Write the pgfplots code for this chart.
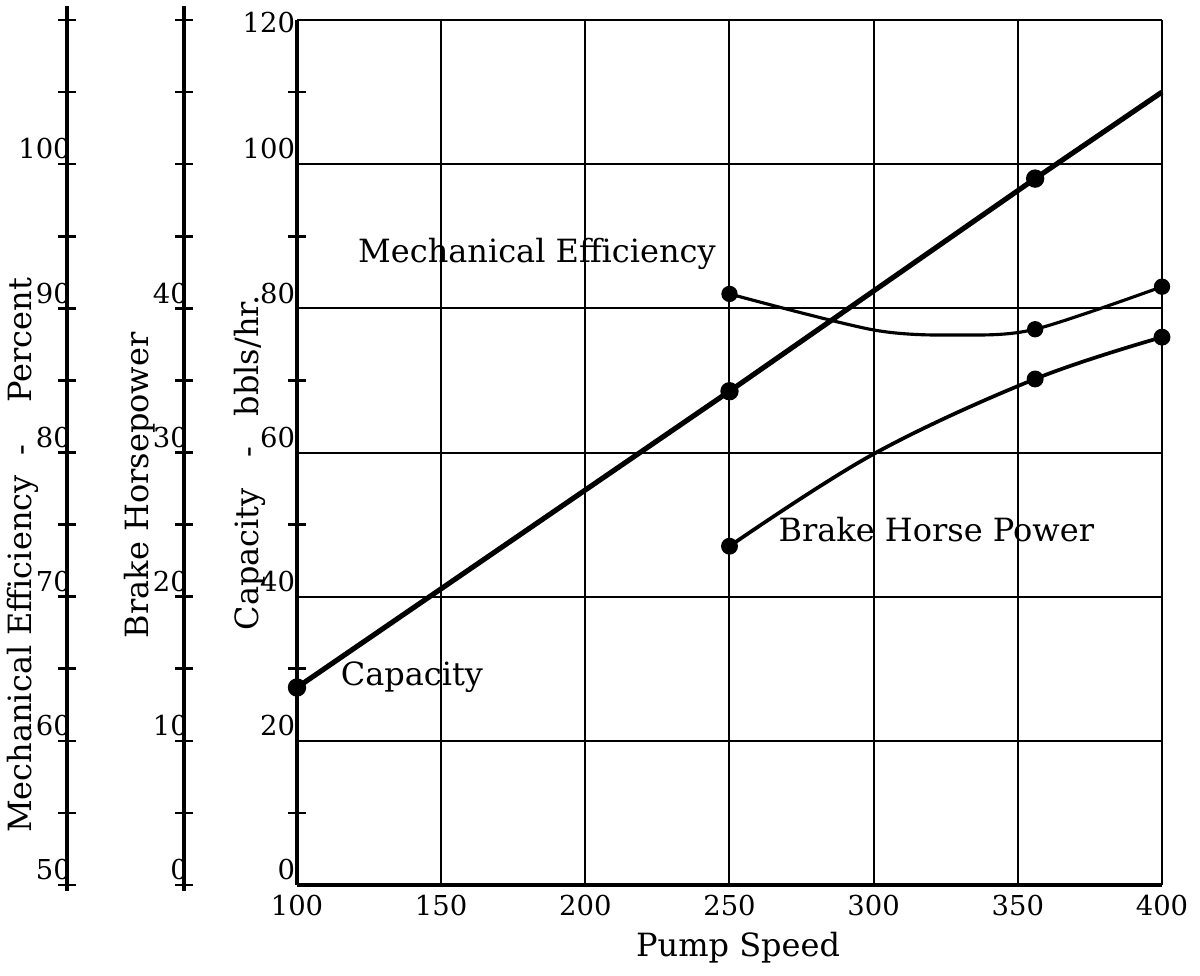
\documentclass[border=0pt]{standalone}
\usepackage{fontspec}
\setmainfont{DejaVu Serif}
\usepackage{pgfplots}
\pgfplotsset{compat=1.18}

% 1 px of the reference = 0.35pt; main axis box is 865 x 865 px
\pgfplotsset{
  every axis/.append style={
    scale only axis,
    height=302.75pt,
    clip=false,
    /pgf/number format/assume math mode=true,
    tick label style={font=\fontsize{9.6}{11}\selectfont},
  },
  scalestyle/.style={
    width=10pt,
    xmin=0, xmax=1,
    hide x axis,
    axis y line=left,
    y axis line style={-, line width=1.2pt, shorten >=-5pt, shorten <=-2pt},
    tick align=center,
    major tick length=6pt,
    minor tick length=6pt,
    tick style={line width=0.9pt, black},
    yticklabel style={anchor=south east, inner sep=0.5pt, yshift=1pt, xshift=5pt},
  },
  overlay/.style={
    width=302.75pt,
    xmin=100, xmax=400,
    hide axis,
  },
}
\tikzset{lbl/.style={inner sep=0pt, font=\fontsize{11.2}{13}\selectfont}}

\begin{document}
\begin{tikzpicture}
\path[use as bounding box] (-103.95pt,-31.5pt) rectangle (316.05pt,309.75pt);

% ---------- main axis: capacity ----------
\begin{axis}[
  width=302.75pt,
  xmin=100, xmax=400,
  ymin=0, ymax=120,
  axis x line=bottom,
  axis y line=left,
  axis line style={-, line width=1.3pt},
  xtick={100,150,...,400},
  ytick={0,20,...,100},
  extra y ticks={120},
  extra y tick style={grid=major, yticklabel style={anchor=east, yshift=-2pt}},
  minor ytick={10,30,...,110},
  major tick length=0pt,
  minor tick length=6pt,
  tick align=center,
  minor tick style={line width=0.9pt, black},
  grid=major,
  major grid style={line width=0.7pt, black},
  yticklabel style={anchor=south east, inner sep=0.5pt, yshift=1pt},
]
\addplot[line width=1.8pt, mark=*, mark size=2.3pt, mark indices={1,2,3},
         mark options={solid, fill=black}]
  coordinates {(100,27.4) (250,68.5) (356,98.0) (400,110.0)};

\node[lbl, anchor=west] at (axis cs:121,87.5) {Mechanical Efficiency};
\node[lbl, anchor=west] at (axis cs:115,28.9) {Capacity};
\node[lbl, anchor=west] at (axis cs:266.8,49.3) {Brake Horse Power};

\node[lbl, rotate=90] at (rel axis cs:-0.317,0.381)
  {Mechanical Efficiency\ \ -\hspace{1.3em}Percent};
\node[lbl, rotate=90] at (rel axis cs:-0.1815,0.462) {Brake Horsepower};
\node[lbl, rotate=90] at (rel axis cs:-0.0543,0.488) {Capacity\ \ \ -\ \ \ bbls/hr.};
\node[lbl] at (rel axis cs:0.51,-0.073) {Pump Speed};
\end{axis}

% ---------- mechanical efficiency (percent) ----------
\begin{axis}[overlay, ymin=50, ymax=110]
\addplot[line width=1.1pt, smooth, tension=0.5, mark=*, mark size=2.3pt,
         mark indices={1,4,5}, mark options={solid, fill=black}]
  coordinates {(250,91.0) (300,88.5) (330,88.15) (356,88.55) (400,91.5)};
\end{axis}

% ---------- brake horsepower ----------
\begin{axis}[overlay, ymin=0, ymax=60]
\addplot[line width=1.3pt, smooth, tension=0.6, mark=*, mark size=2.3pt,
         mark indices={1,3,4}, mark options={solid, fill=black}]
  coordinates {(250,23.5) (300,29.9) (356,35.1) (400,38.0)};
\end{axis}

% ---------- left scales ----------
\begin{axis}[scalestyle, at={(-80.5pt,0pt)},
  ymin=50, ymax=110,
  ytick={50,60,...,100},
  minor ytick={55,65,75,85,95,105,110},
]
\end{axis}

\begin{axis}[scalestyle, at={(-39.55pt,0pt)},
  ymin=0, ymax=60,
  ytick={0,10,...,40},
  minor ytick={5,15,25,35,45,50,55,60},
]
\end{axis}
\end{tikzpicture}
\end{document}
